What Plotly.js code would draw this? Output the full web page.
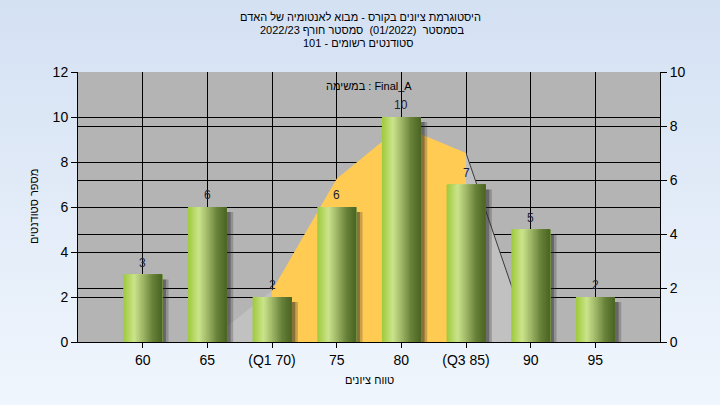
<!DOCTYPE html>
<html>
<head>
<meta charset="utf-8">
<script src="https://cdn.plot.ly/plotly-3.0.1.min.js"></script>
<style>
  html, body { margin:0; padding:0; width:720px; height:405px; overflow:hidden;
    background: linear-gradient(to bottom, rgb(212,225,243), rgb(240,246,253)); }
  #chart { width:720px; height:405px; }
</style>
</head>
<body>
<div id="chart"></div>
<script>
// ---- data ----
const categories = ['60', '65', '(Q1 70)', '75', '80', '(Q3 85)', '90', '95'];
const counts = [3, 6, 2, 6, 10, 7, 5, 2];
const countLabels = ['3', '6', '2', '6', '10', '7', '5', '2'];
// distribution curve (right axis)
const curveLeftX = ['65', '(Q1 70)'];
const curveLeftY = [0, 1.9];
const curveMidX = ['(Q1 70)', '75', '80', '(Q3 85)'];
const curveMidY = [1.9, 6.05, 8.0, 7.0];
const curveRightX = ['(Q3 85)', '90'];
const curveRightY = [7.0, 0];
const titleLines = [
  'היסטוגרמת ציונים בקורס - מבוא לאנטומיה של האדם',
  '\u202Bבסמסטר  (01/2022)  סמסטר חורף 2022/23\u202C',
  '\u202Bסטודנטים רשומים - 101\u202C'
];
const innerLabel = 'במשימה : Final_A';
const xTitle = 'טווח ציונים';
const yTitle = 'מספר סטודנטים';

// ---- styles ----
const FONT = 'Arial, "Liberation Sans", "DejaVu Sans", sans-serif';
// gradient key colours across a bar (left -> right), position 0..1
const gradStops = [[0, [158, 201, 58]], [0.28, [203, 228, 140]], [0.5, [160, 184, 104]],
  [0.75, [104, 130, 58]], [1, [74, 100, 36]]];
const N_STRIPS = 30;
const BAR_W = 0.6;

function gradColor(t) {
  for (let k = 1; k < gradStops.length; k++) {
    if (t <= gradStops[k][0]) {
      const [t0, c0] = gradStops[k - 1], [t1, c1] = gradStops[k];
      const f = (t - t0) / (t1 - t0);
      const c = c0.map((v, j) => Math.round(v + (c1[j] - v) * f));
      return 'rgb(' + c.join(',') + ')';
    }
  }
  return 'rgb(' + gradStops[gradStops.length - 1][1].join(',') + ')';
}

const traces = [];
// curve fills (main y axis, right side)
traces.push({type:'scatter', mode:'lines', x:curveLeftX, y:curveLeftY, yaxis:'y',
  fill:'tozeroy', fillcolor:'rgb(193,193,193)', line:{width:0, color:'rgba(0,0,0,0)'}, hoverinfo:'skip'});
traces.push({type:'scatter', mode:'lines', x:curveRightX, y:curveRightY, yaxis:'y',
  fill:'tozeroy', fillcolor:'rgb(193,193,193)', line:{width:1, color:'#3a3a3a'}, hoverinfo:'skip'});
traces.push({type:'scatter', mode:'lines', x:curveMidX, y:curveMidY, yaxis:'y',
  fill:'tozeroy', fillcolor:'#ffcb52', line:{width:0, color:'rgba(0,0,0,0)'}, hoverinfo:'skip'});
// shadows (y2, shifted a bit downward)
traces.push({type:'bar', x:categories, y:counts, yaxis:'y2', width:BAR_W, offset:-BAR_W/2 + 0.1,
  marker:{color:'rgba(40,40,40,0.25)', line:{width:0}}, hoverinfo:'skip'});
traces.push({type:'bar', x:categories, y:counts, yaxis:'y2', width:BAR_W, offset:-BAR_W/2 + 0.06,
  marker:{color:'rgba(40,40,40,0.4)', line:{width:0}}, hoverinfo:'skip'});
// bar strips for gradient (y3); each strip runs to the bar's right edge so no seams
const sw = BAR_W / N_STRIPS;
for (let i = 0; i < N_STRIPS; i++) {
  traces.push({type:'bar', x:categories, y:counts, yaxis:'y3',
    width: BAR_W - i*sw, offset: -BAR_W/2 + i*sw,
    marker:{color:gradColor((i + 0.5) / N_STRIPS), line:{width:0}}, hoverinfo:'skip'});
}

const axisCommon = {showgrid:true, gridcolor:'#000', gridwidth:1, zeroline:false,
  showline:true, linecolor:'#000', linewidth:1, ticks:'outside', ticklen:6, tickcolor:'#000',
  tickfont:{family:FONT, size:14, color:'#000'}, fixedrange:true};

// category axis: annotations addressed by category index
const valueAnnotations = categories.map((c, i) => ({
  text:countLabels[i], x:i, y:counts[i], xref:'x', yref:'y3', showarrow:false,
  xanchor:'center', yanchor:'bottom', yshift:3,
  font:{family:FONT, size:12, color:'#1e1e34'}
}));

const px2py = p => (342 - p) / 270;
const px2px = p => (p - 78) / 582;
const textAnn = (t, x, y, size, extra) => Object.assign({text:t, xref:'paper', yref:'paper',
  x:x, y:y, showarrow:false, xanchor:'center', yanchor:'middle',
  font:{family:FONT, size:size, color:'#000'}}, extra || {});

const layout = {
  width:720, height:405,
  margin:{l:78, r:60, t:72, b:63},
  paper_bgcolor:'rgba(0,0,0,0)',
  plot_bgcolor:'rgb(180,180,180)',
  showlegend:false,
  barmode:'overlay',
  hovermode:false,
  xaxis:Object.assign({}, axisCommon, {type:'category', categoryorder:'array', categoryarray:categories,
    range:[-1, 8], ticklen:5}),
  yaxis:Object.assign({}, axisCommon, {side:'right', range:[0, 10], dtick:2}),
  yaxis2:{overlaying:'y', range:[0.22, 12.22], visible:false, fixedrange:true},
  yaxis3:Object.assign({}, axisCommon, {overlaying:'y', side:'left', range:[0, 12], dtick:2}),
  annotations:[
    textAnn(titleLines[0], px2px(360), px2py(17.5), 11),
    textAnn(titleLines[1], px2px(362), px2py(30), 11),
    textAnn(titleLines[2], px2px(358), px2py(42.5), 11),
    textAnn(innerLabel, 0.5, px2py(86), 11),
    textAnn(xTitle, 0.5, px2py(380), 11),
    textAnn(yTitle, px2px(34), 0.5, 11, {textangle:-90})
  ].concat(valueAnnotations)
};

Plotly.newPlot('chart', traces, layout, {displayModeBar:false, staticPlot:true});
</script>
</body>
</html>
